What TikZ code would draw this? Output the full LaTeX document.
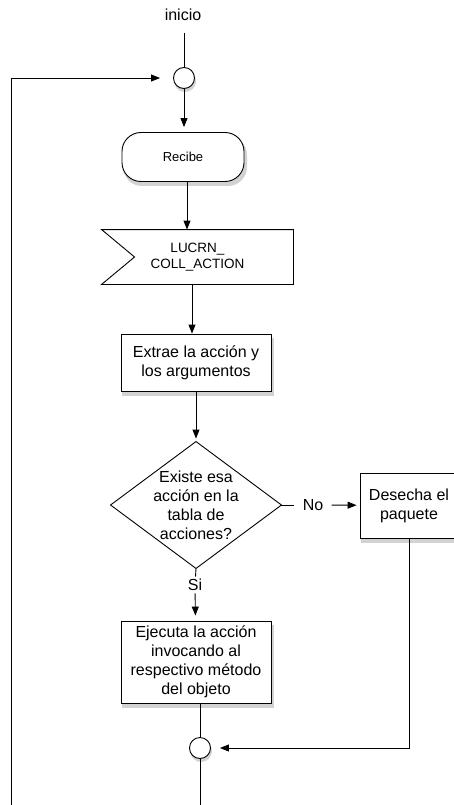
\documentclass[tikz,border=0pt]{standalone}
\usepackage{fontspec}
\setmainfont{Liberation Sans}
\usetikzlibrary{calc}
\usetikzlibrary{arrows.meta}

\begin{document}
\begin{tikzpicture}[x=1pt,y=-1pt,line width=0.9pt,>={Triangle[length=9pt,width=7pt]},
	caja/.style={draw,fill=white,align=center,font=\fontsize{16}{19}\selectfont,inner sep=2pt},
	union/.style={draw,fill=white,circle,minimum size=21pt,inner sep=0pt},
	etiq/.style={font=\fontsize{16}{19}\selectfont,inner sep=2pt}]
	\useasboundingbox (0,0) rectangle (453,805);
	% sombras primero, con las mismas medidas de las cajas
	\fill[gray!35,rounded corners=19pt] (123,136) rectangle (247,186);
	\fill[gray!35] (122,338) rectangle (274,396);
	\fill[gray!35] (361,477) rectangle (460,543);
	\fill[gray!35] (122,625) rectangle (274,708);
	\fill[gray!35] (185,81) circle (11);
	\fill[gray!35] (201,751) circle (11);
	% nodos del flujo
	\node[etiq] (inicio) at (183,15) {inicio};
	\node[union] (c1) at (184,78) {};
	\node[caja,rounded corners=19pt,minimum width=122pt,minimum height=49pt,font=\fontsize{13}{16}\selectfont] (recibe) at (183,157) {Recibe};
	\node[align=center,font=\fontsize{13.5}{16.5}\selectfont,minimum width=191pt,minimum height=54pt] (flag) at (197.5,257) {LUCRN\_\\COLL\_ACTION};
	\draw (flag.north west) -- (flag.north east) -- (flag.south east) -- (flag.south west) -- ($(flag.west)+(33,0)$) -- cycle;
	\node[caja,minimum width=150pt,minimum height=57pt] (extrae) at (196,362.5) {Extrae la acción y\\los argumentos};
	\node[align=center,font=\fontsize{16}{19}\selectfont,minimum width=170pt,minimum height=126pt] (rombo) at (196,505) {Existe esa\\acción en la\\tabla de\\acciones?};
	\draw (rombo.north) -- (rombo.east) -- (rombo.south) -- (rombo.west) -- cycle;
	\node[etiq,inner sep=8pt] (no) at (313,505) {No};
	\node[caja,minimum width=98pt,minimum height=65pt] (desecha) at (409,505.5) {Desecha el\\paquete};
	\node[etiq] (si) at (195,585) {Si};
	\node[caja,minimum width=150pt,minimum height=82pt] (ejecuta) at (196,662) {Ejecuta la acción\\invocando al\\respectivo método\\del objeto};
	\node[union] (c2) at (200,748) {};
	\coordinate (fin) at (200,805);
	\coordinate (lazo) at (11,805);
	% conectores
	\draw[shorten <=10pt] (inicio.south -| c1) -- (c1);
	\draw[->,shorten >=5pt] (c1) -- (c1 |- recibe.north);
	\draw[->] ([xshift=4pt]recibe.south) -- ([xshift=4pt]recibe.south |- flag.north);
	\draw[->] ([xshift=-5.5pt]flag.south) -- ([xshift=-5.5pt]flag.south |- extrae.north);
	\draw[->,shorten >=3pt] (extrae) -- (rombo.north);
	\draw (rombo.east) -- (no);
	\draw[->,shorten >=3pt] (no) -- (desecha);
	\draw (rombo.south) -- (si);
	\draw[->,shorten >=5pt] (si) -- (ejecuta);
	\draw ([xshift=4pt]ejecuta.south) -- (c2);
	\draw (c2) -- (fin);
	\draw[->,shorten >=9pt] (desecha.south) |- (c2);
	\draw[->,shorten >=13pt] (lazo) |- (c1);
\end{tikzpicture}
\end{document}
